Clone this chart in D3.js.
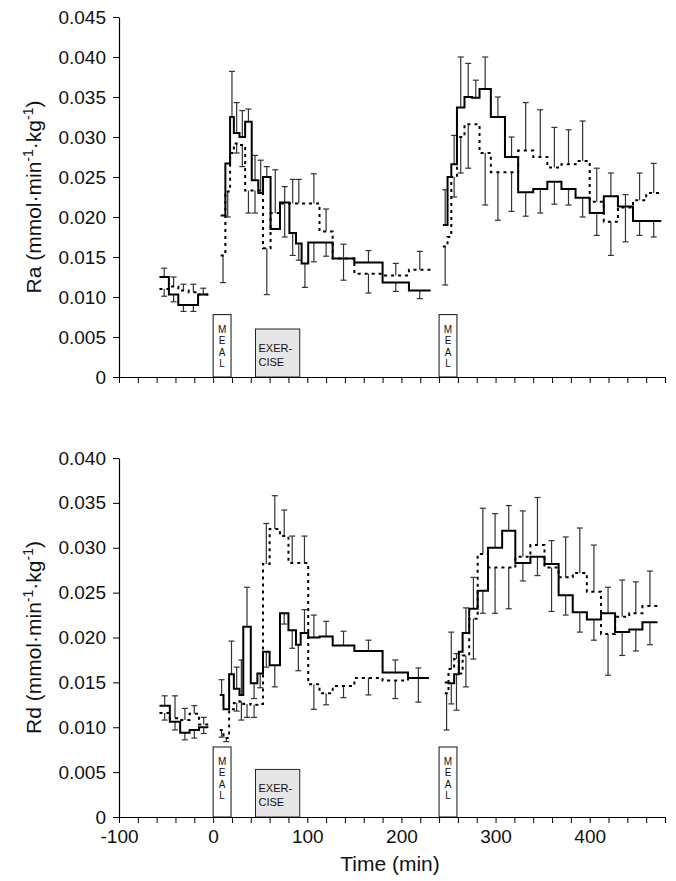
<!DOCTYPE html>
<html>
<head>
<meta charset="utf-8">
<script src="https://cdn.jsdelivr.net/npm/d3@7"></script>
<style>
  body { margin: 0; background: #fff; }
  text { font-family: "Liberation Sans", Arial, sans-serif; fill: #111; }
</style>
</head>
<body>
<div id="chart"></div>
<script>
// interval edges (min); a null value means no sample in that interval
var raEdges = [-57, -47, -37, -26, -16, -5,
  8, 13, 18, 22, 28, 34, 41, 48, 53, 61, 71, 81, 88, 94, 101, 113, 127, 150, 180, 208, 231,
  244, 249, 253, 259, 267, 275, 283, 295, 310, 324, 340, 355, 370, 385, 400, 415, 430, 446, 460, 476]

var raSolid = [0.0125, 0.0103, 0.0090, 0.0090, 0.0103, null,
  0.0202, 0.0267, 0.0325, 0.0305, 0.0300, 0.0319, 0.0246, 0.0230, 0.0250, 0.0185, 0.0218, 0.0180, 0.0167, 0.0142,
  0.0168, 0.0168, 0.0148, 0.0143, 0.0118, 0.0108, null,
  0.0190, 0.0250, 0.0266, 0.0337, 0.0350, 0.0349, 0.0360, 0.0325, 0.0275, 0.0231, 0.0235, 0.0244, 0.0235, 0.0224,
  0.0205, 0.0226, 0.0213, 0.0195, 0.0195]
var raSolidErr = [0.0136, 0.0094, 0.0082, 0.0082, 0.0111, null,
  null, null, 0.0382, 0.0343, 0.0333, 0.0335, 0.0277, 0.0271, 0.0263, null, 0.0238, 0.0152, 0.0146, 0.0112,
  0.0144, 0.0151, 0.0166, 0.0158, 0.0107, 0.0098, null,
  0.0234, null, 0.0302, 0.0400, 0.0392, 0.0371, 0.0400, 0.0350, 0.0300, 0.0201, 0.0205, 0.0216, 0.0215, 0.0200,
  0.0177, 0.0255, 0.0169, 0.0177, 0.0175]

var raDotted = [0.0110, 0.0113, 0.0108, 0.0106, 0.0103, null,
  0.0152, 0.0232, 0.0280, 0.0292, 0.0290, 0.0233, 0.0233, 0.0233, 0.0161, 0.0205, 0.0217, 0.0217, 0.0217, 0.0217,
  0.0217, 0.0182, 0.0148, 0.0129, 0.0127, 0.0134, null,
  0.0163, 0.0175, 0.0250, 0.0300, 0.0316, 0.0316, 0.0280, 0.0256, 0.0256, 0.0283, 0.0275, 0.0262, 0.0266, 0.0270,
  0.0219, 0.0194, 0.0212, 0.0221, 0.0230]
var raDottedErr = [0.0101, 0.0125, 0.0116, 0.0116, null, null,
  0.0118, 0.0200, null, 0.0280, 0.0263, 0.0205, 0.0205, null, 0.0103, 0.0259, 0.0175, 0.0247, 0.0247, null,
  0.0254, 0.0210, 0.0121, 0.0105, 0.0142, 0.0157, null,
  0.0115, null, 0.0225, 0.0255, 0.0261, null, 0.0215, 0.0196, 0.0207, 0.0343, 0.0334, 0.0312, 0.0309, 0.0320,
  0.0261, 0.0152, 0.0228, 0.0255, 0.0267]

var rdEdges = [-57, -46, -35, -25, -15, -5,
  7, 11, 17, 22, 28, 32, 40, 47, 53, 60, 71, 80, 88, 93, 101, 113, 127, 150, 180, 207, 229,
  246, 250, 256, 261, 265, 272, 281, 292, 307, 321, 337, 352, 367, 382, 397, 412, 427, 442, 456, 472]

var rdSolid = [0.0124, 0.0106, 0.0094, 0.0097, 0.0100, null,
  0.0136, 0.0120, 0.0159, 0.0143, 0.0136, 0.0212, 0.0149, 0.0160, 0.0184, 0.0169, 0.0227, 0.0208, 0.0192, 0.0205,
  0.0200, 0.0201, 0.0191, 0.0185, 0.0161, 0.0155, null,
  0.0150, 0.0149, 0.0159, 0.0184, 0.0205, 0.0232, 0.0252, 0.0300, 0.0319, 0.0283, 0.0290, 0.0282, 0.0247, 0.0228,
  0.0220, 0.0227, 0.0206, 0.0209, 0.0217]
var rdSolidErr = [0.0135, 0.0097, 0.0086, 0.0088, 0.0093, null,
  0.0153, null, 0.0196, 0.0167, 0.0175, 0.0256, 0.0132, 0.0144, 0.0167, 0.0145, 0.0215, 0.0188, 0.0163, 0.0231,
  0.0225, 0.0218, 0.0207, 0.0197, 0.0175, 0.0166, null,
  null, 0.0126, 0.0119, null, 0.0233, 0.0267, 0.0227, 0.0338, 0.0347, 0.0263, 0.0269, 0.0308, 0.0225, 0.0206,
  0.0197, 0.0256, 0.0180, 0.0185, 0.0192]

var rdDotted = [0.0116, 0.0110, 0.0108, 0.0115, 0.0103, null,
  0.0097, 0.0088, 0.0120, 0.0127, 0.0129, 0.0126, 0.0125, 0.0126, 0.0282, 0.0321, 0.0313, 0.0283, 0.0283, 0.0283,
  0.0148, 0.0138, 0.0146, 0.0155, 0.0152, 0.0155, null,
  0.0138, 0.0165, 0.0176, 0.0160, 0.0180, 0.0221, 0.0293, 0.0278, 0.0278, 0.0290, 0.0303, 0.0278, 0.0267, 0.0272,
  0.0251, 0.0204, 0.0223, 0.0227, 0.0235]
var rdDottedErr = [0.0108, 0.0135, 0.0121, 0.0124, 0.0111, null,
  0.0089, 0.0084, null, 0.0118, 0.0108, 0.0111, 0.0111, null, 0.0327, 0.0358, 0.0342, 0.0313, null, 0.0313,
  0.0120, 0.0125, 0.0133, 0.0136, 0.0132, 0.0128, null,
  0.0097, 0.0206, 0.0182, null, 0.0145, 0.0176, 0.0344, 0.0227, 0.0232, 0.0341, 0.0356, 0.0229, 0.0312, 0.0322,
  0.0303, 0.0158, 0.0264, 0.0262, 0.0274]

var raTicks = [0, 0.005, 0.010, 0.015, 0.020, 0.025, 0.030, 0.035, 0.040, 0.045]
var rdTicks = [0, 0.005, 0.010, 0.015, 0.020, 0.025, 0.030, 0.035, 0.040]
var timeTicks = [-100, -80, -60, -40, -20, 0, 20, 40, 60, 80, 100, 120, 140, 160, 180, 200,
  220, 240, 260, 280, 300, 320, 340, 360, 380, 400, 420, 440, 460, 480]
var timeLabels = [-100, 0, 100, 200, 300, 400]

var meals = [[0, 19], [240, 259]]
var mealLetters = ["M", "E", "A", "L"]
var exercise = [45, 92]

var svg = d3.select("#chart")
  .append("svg")
  .attr("width", 676)
  .attr("height", 881)

var xScale = d3.scaleLinear()
  .domain([-100, 480])
  .range([119, 665])

drawPanel({ top: 17, bottom: 377, yMax: 0.045, ticks: raTicks, name: "Ra",
  edges: raEdges, solid: raSolid, solidErr: raSolidErr, dotted: raDotted, dottedErr: raDottedErr,
  mealTop: 0.0078, exTop: 0.0060, labels: false })

drawPanel({ top: 458, bottom: 817, yMax: 0.040, ticks: rdTicks, name: "Rd",
  edges: rdEdges, solid: rdSolid, solidErr: rdSolidErr, dotted: rdDotted, dottedErr: rdDottedErr,
  mealTop: 0.0078, exTop: 0.0053, labels: true })

svg.append("text")
  .attr("x", 390)
  .attr("y", 871)
  .attr("text-anchor", "middle")
  .style("font-size", "21px")
  .text("Time  (min)")

function stepPoints(edges, vals) {
  let pts = []
  vals.forEach(function(v, i) {
    if (v == null) { pts.push(null); return }
    pts.push({ t: edges[i], v: v }, { t: edges[i + 1], v: v })
  })
  return pts
}

function drawPanel(p) {
  let yScale = d3.scaleLinear()
    .domain([0, p.yMax])
    .range([p.bottom, p.top])

  let g = svg.append("g")

  // error bars
  let bars = []
  p.solid.forEach(function(v, i) {
    if (v != null && p.solidErr[i] != null) bars.push({ t: (p.edges[i] + p.edges[i + 1]) / 2, v: v, e: p.solidErr[i] })
  })
  p.dotted.forEach(function(v, i) {
    if (v != null && p.dottedErr[i] != null) bars.push({ t: (p.edges[i] + p.edges[i + 1]) / 2, v: v, e: p.dottedErr[i] })
  })
  let eb = g.selectAll(".err")
    .data(bars)
    .enter()
    .append("g")
    .attr("class", "err")
    .attr("stroke", "#333")
    .attr("stroke-width", 1.2)
  eb.append("line")
    .attr("x1", function(d) { return xScale(d.t) })
    .attr("x2", function(d) { return xScale(d.t) })
    .attr("y1", function(d) { return yScale(d.v) })
    .attr("y2", function(d) { return yScale(d.e) })
  eb.append("line")
    .attr("x1", function(d) { return xScale(d.t) - 3 })
    .attr("x2", function(d) { return xScale(d.t) + 3 })
    .attr("y1", function(d) { return yScale(d.e) })
    .attr("y2", function(d) { return yScale(d.e) })

  let line = d3.line()
    .defined(function(d) { return d != null })
    .x(function(d) { return xScale(d.t) })
    .y(function(d) { return yScale(d.v) })

  g.append("path")
    .attr("d", line(stepPoints(p.edges, p.dotted)))
    .attr("fill", "none")
    .attr("stroke", "#000")
    .attr("stroke-width", 2)
    .attr("stroke-dasharray", "3,4")

  g.append("path")
    .attr("d", line(stepPoints(p.edges, p.solid)))
    .attr("fill", "none")
    .attr("stroke", "#000")
    .attr("stroke-width", 2)

  // meal and exercise boxes
  meals.forEach(function(m) {
    g.append("rect")
      .attr("x", xScale(m[0]))
      .attr("y", yScale(p.mealTop))
      .attr("width", xScale(m[1]) - xScale(m[0]))
      .attr("height", yScale(0) - yScale(p.mealTop))
      .attr("fill", "#fff")
      .attr("stroke", "#111")
      .attr("stroke-width", 1)
    g.selectAll(null)
      .data(mealLetters)
      .enter()
      .append("text")
      .attr("x", (xScale(m[0]) + xScale(m[1])) / 2)
      .attr("y", function(d, i) { return yScale(p.mealTop) + 18 + i * 11.5 })
      .attr("text-anchor", "middle")
      .style("font-size", "10px")
      .text(function(d) { return d })
  })

  g.append("rect")
    .attr("x", xScale(exercise[0]))
    .attr("y", yScale(p.exTop))
    .attr("width", xScale(exercise[1]) - xScale(exercise[0]))
    .attr("height", yScale(0) - yScale(p.exTop))
    .attr("fill", "#e6e6e6")
    .attr("stroke", "#222")
    .attr("stroke-width", 1)
  g.append("text")
    .attr("x", xScale(exercise[0]) + 3)
    .attr("y", yScale(p.exTop) + 23)
    .style("font-size", "11px")
    .text("EXER-")
  g.append("text")
    .attr("x", xScale(exercise[0]) + 3)
    .attr("y", yScale(p.exTop) + 37)
    .style("font-size", "11px")
    .text("CISE")

  // axes
  let yAxis = svg.append("g")
    .attr("transform", "translate(" + xScale(-100) + ",0)")
    .call(d3.axisLeft(yScale)
      .tickValues(p.ticks)
      .tickSize(6)
      .tickSizeOuter(0)
      .tickPadding(7)
      .tickFormat(function(d) { return d === 0 ? "0" : d3.format(".3f")(d) }))
  yAxis.selectAll("text").style("font-size", "19px").attr("fill", "#111")

  let xAxis = svg.append("g")
    .attr("transform", "translate(0," + p.bottom + ")")
    .call(d3.axisBottom(xScale)
      .tickValues(timeTicks)
      .tickSize(6)
      .tickSizeOuter(0)
      .tickPadding(7)
      .tickFormat(function(d) { return p.labels && timeLabels.indexOf(d) >= 0 ? d : "" }))
  xAxis.selectAll("text").style("font-size", "19px").attr("fill", "#111")
  svg.selectAll(".domain").attr("stroke-width", 1.2)

  let lab = svg.append("text")
    .attr("transform", "translate(41," + (p.top + p.bottom) / 2 + ") rotate(-90)")
    .attr("text-anchor", "middle")
    .style("font-size", "21px")
  lab.append("tspan").text(p.name + " (mmol\u00b7min")
  lab.append("tspan").attr("dy", -8).style("font-size", "14px").text("-1")
  lab.append("tspan").attr("dy", 8).text("\u00b7kg")
  lab.append("tspan").attr("dy", -8).style("font-size", "14px").text("-1")
  lab.append("tspan").attr("dy", 8).text(")")
}
</script>
</body>
</html>
